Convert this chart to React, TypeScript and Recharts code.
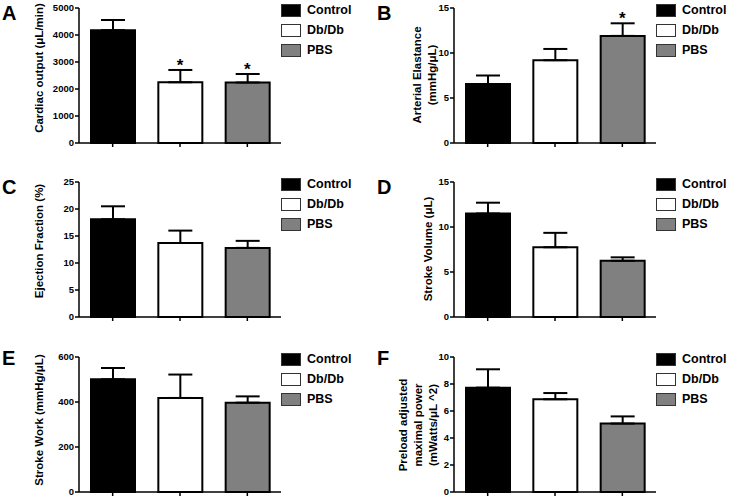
import React from "react"
import { BarChart, Bar, XAxis, YAxis, Cell, ErrorBar, ReferenceDot, Legend, Label } from "recharts"

const categories = ["Control", "Db/Db", "PBS"]
const groupColors = ["#000000", "#ffffff", "#808080"]

const outputMeans = [4180, 2250, 2240]
const outputErrs = [375, 455, 315]
const outputTicks = [0, 1000, 2000, 3000, 4000, 5000]
const outputStars = ["", "*", "*"]

const elastanceMeans = [6.55, 9.2, 11.9]
const elastanceErrs = [0.95, 1.25, 1.4]
const elastanceTicks = [0, 5, 10, 15]
const elastanceStars = ["", "", "*"]

const ejectionMeans = [18.1, 13.7, 12.8]
const ejectionErrs = [2.4, 2.3, 1.3]
const ejectionTicks = [0, 5, 10, 15, 20, 25]

const volumeMeans = [11.5, 7.75, 6.25]
const volumeErrs = [1.2, 1.6, 0.38]
const volumeTicks = [0, 5, 10, 15]

const workMeans = [501, 418, 397]
const workErrs = [50, 104, 28]
const workTicks = [0, 200, 400, 600]

const powerMeans = [7.73, 6.87, 5.07]
const powerErrs = [1.36, 0.46, 0.53]
const powerTicks = [0, 2, 4, 6, 8, 10]

const font = "'Liberation Sans', Arial, sans-serif"

function GroupLegend() {
  return (
    <div style={{ fontFamily: font, fontWeight: "bold", fontSize: 12.5, color: "#000" }}>
      {categories.map((c, i) => (
        <div key={c} style={{ display: "flex", alignItems: "center", height: 20 }}>
          <span
            style={{
              display: "inline-block",
              width: 18,
              height: 11,
              background: groupColors[i],
              border: "1px solid #333",
            }}
          />
          <span style={{ marginLeft: 6 }}>{c}</span>
        </div>
      ))}
    </div>
  )
}

function AxisTitle({ lines, xs, cy }: { lines: string[]; xs: number[]; cy: number }) {
  return (
    <g>
      {lines.map((l, i) => (
        <text
          key={l}
          x={xs[i]}
          y={cy}
          transform={`rotate(-90 ${xs[i]} ${cy})`}
          textAnchor="middle"
          dominantBaseline="central"
          fontFamily={font}
          fontWeight="bold"
          fontSize={11.5}
          fill="#000"
        >
          {l}
        </text>
      ))}
    </g>
  )
}

interface PanelProps {
  letter: string
  letterTop: number
  left: number
  top: number
  title: string[]
  titleX: number[]
  titleY: number
  means: number[]
  errs: number[]
  ticks: number[]
  stars?: string[]
}

function Panel({ letter, letterTop, left, top, title, titleX, titleY, means, errs, ticks, stars }: PanelProps) {
  const data = categories.map((c, i) => ({ name: c, mean: means[i], err: [0, errs[i]] }))
  return (
    <div style={{ position: "absolute", left, top, width: 371, height: 165 }}>
      <div
        style={{
          position: "absolute",
          left: 2,
          top: letterTop,
          fontFamily: font,
          fontWeight: "bold",
          fontSize: 20,
          lineHeight: 1,
          zIndex: 2,
        }}
      >
        {letter}
      </div>
      <BarChart width={371} height={165} data={data} margin={{ top: 8, right: 90, bottom: 12, left: 0 }}>
        <XAxis
          dataKey="name"
          height={10}
          tickFormatter={() => ""}
          tickSize={4}
          axisLine={{ stroke: "#000", strokeWidth: 1.5 }}
          tickLine={{ stroke: "#000", strokeWidth: 1.5 }}
        />
        <YAxis
          width={79}
          domain={[ticks[0], ticks[ticks.length - 1]]}
          ticks={ticks}
          interval={0}
          tickSize={4}
          tickMargin={1}
          axisLine={{ stroke: "#000", strokeWidth: 1.5 }}
          tickLine={{ stroke: "#000", strokeWidth: 1.5 }}
          tick={{ fontFamily: font, fontWeight: "bold", fontSize: 9.5, fill: "#000" }}
        >
          <Label content={<AxisTitle lines={title} xs={titleX} cy={titleY} />} />
        </YAxis>
        <Legend
          layout="vertical"
          align="center"
          verticalAlign="middle"
          content={<GroupLegend />}
          wrapperStyle={{ left: 281, top: 0, width: 90, height: 60 }}
        />
        <Bar dataKey="mean" barSize={44} stroke="#000" strokeWidth={2} isAnimationActive={false}>
          {categories.map((c, i) => (
            <Cell key={c} fill={groupColors[i]} />
          ))}
          <ErrorBar dataKey="err" width={12} stroke="#000" strokeWidth={2} direction="y" isAnimationActive={false} />
        </Bar>
        {(stars || []).map((s, i) =>
          s ? (
            <ReferenceDot
              key={i}
              x={categories[i]}
              y={means[i] + errs[i]}
              r={0}
              fill="none"
              stroke="none"
              label={{
                content: (p: any) => {
                  const vb = p.viewBox || {}
                  const cx = (vb.x || 0) + (vb.width || 0) / 2
                  return (
                    <text
                      x={cx}
                      y={(vb.y || 0) + 1}
                      textAnchor="middle"
                      fontFamily={font}
                      fontWeight="bold"
                      fontSize={17}
                      fill="#000"
                    >
                      {s}
                    </text>
                  )
                },
              }}
            />
          ) : null
        )}
      </BarChart>
    </div>
  )
}

export default function App() {
  return (
    <div
      style={{
        position: "absolute",
        left: 0,
        top: 0,
        width: 729,
        height: 499,
        background: "#fff",
        overflow: "hidden",
      }}
    >
      <Panel
        letter="A"
        letterTop={3}
        left={0}
        top={0}
        title={["Cardiac output (μL/min)"]}
        titleX={[39]}
        titleY={68}
        means={outputMeans}
        errs={outputErrs}
        ticks={outputTicks}
        stars={outputStars}
      />
      <Panel
        letter="B"
        letterTop={3}
        left={375}
        top={0}
        title={["Arterial Elastance", "(mmHg/μL)"]}
        titleX={[42, 57]}
        titleY={75}
        means={elastanceMeans}
        errs={elastanceErrs}
        ticks={elastanceTicks}
        stars={elastanceStars}
      />
      <Panel
        letter="C"
        letterTop={3}
        left={0}
        top={174}
        title={["Ejection Fraction (%)"]}
        titleX={[39]}
        titleY={67}
        means={ejectionMeans}
        errs={ejectionErrs}
        ticks={ejectionTicks}
      />
      <Panel
        letter="D"
        letterTop={3}
        left={375}
        top={174}
        title={["Stroke Volume (μL)"]}
        titleX={[53]}
        titleY={75}
        means={volumeMeans}
        errs={volumeErrs}
        ticks={volumeTicks}
      />
      <Panel
        letter="E"
        letterTop={-1}
        left={0}
        top={349}
        title={["Stroke Work (mmHg/μL)"]}
        titleX={[39]}
        titleY={71}
        means={workMeans}
        errs={workErrs}
        ticks={workTicks}
      />
      <Panel
        letter="F"
        letterTop={-1}
        left={375}
        top={349}
        title={["Preload adjusted", "maximal power", "(mWatts/μL ^2)"]}
        titleX={[28, 43, 58]}
        titleY={76}
        means={powerMeans}
        errs={powerErrs}
        ticks={powerTicks}
      />
    </div>
  )
}
